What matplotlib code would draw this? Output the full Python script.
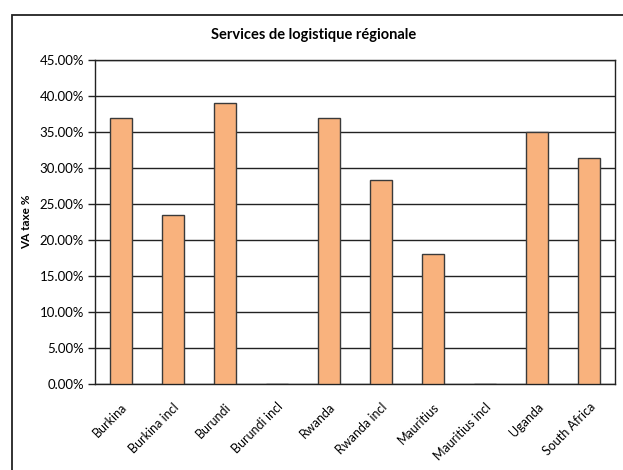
import matplotlib.pyplot as plt
from matplotlib.patches import Rectangle
from matplotlib.ticker import PercentFormatter, MultipleLocator

# --- DATA ---
categories = ['Burkina', 'Burkina incl', 'Burundi', 'Burundi incl', 'Rwanda',
              'Rwanda incl', 'Mauritius', 'Mauritius incl', 'Uganda', 'South Africa']
va_tax = [36.9, 23.5, 39.0, 0.0, 36.9, 28.3, 18.0, 0.0, 35.0, 31.4]

title = 'Services de logistique régionale'
ylabel = 'VA taxe %'

plt.rcParams['font.family'] = ['Lato', 'DejaVu Sans']

fig = plt.figure(figsize=(6.23, 4.70), dpi=100)
W, H = 623, 470
ax = fig.add_axes([95 / W, 1 - 384 / H, 520 / W, 324 / H])

# outer frame (cut off at right and bottom like the reference)
fig.patches.append(Rectangle((12 / W, -0.05), 1.0, 1 - 15 / H + 0.05,
                             transform=fig.transFigure, fill=False,
                             edgecolor='#222222', linewidth=1.3, clip_on=False))

x = range(len(categories))
ax.bar(x, va_tax, width=0.42, color='#F9B27D', edgecolor='#3a3a3a', linewidth=1.0, zorder=3)

ax.set_xlim(-0.5, len(categories) - 0.5)
ax.set_ylim(0, 45)
ax.yaxis.set_major_locator(MultipleLocator(5))
ax.yaxis.set_major_formatter(PercentFormatter(decimals=2))
ax.grid(axis='y', color='#222222', linewidth=1.0, zorder=0)

ax.set_xticks(list(x))
ax.set_xticklabels(categories, rotation=45, ha='right', rotation_mode='anchor', fontsize=9)
ax.tick_params(axis='x', length=0, pad=12)
ax.tick_params(axis='y', length=5, width=1, color='#222222', labelsize=9.5, pad=3)

for s in ax.spines.values():
    s.set_color('#222222')
    s.set_linewidth(1.0)

ax.set_ylabel(ylabel, fontsize=8.5, fontweight='bold', labelpad=5)
fig.text(314 / W, 1 - 35 / H, title, ha='center', va='center',
         fontsize=10.5, fontweight='bold')

fig.savefig('out.png', dpi=100)
